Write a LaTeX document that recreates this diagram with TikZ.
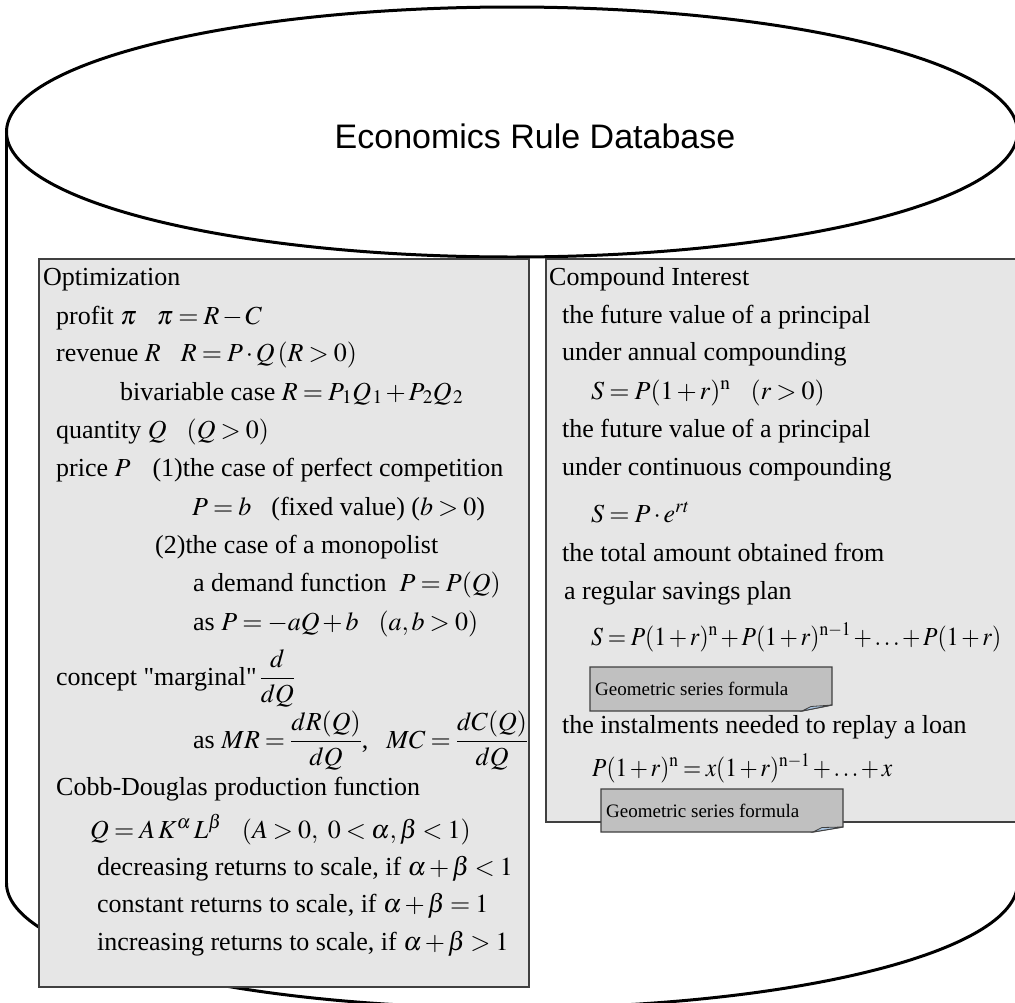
\documentclass[tikz,border=0pt]{standalone}
\usepackage{amsmath}
\usepackage{graphicx}
\usepackage{mathptmx}
\usepackage[no-math]{fontspec}
\setmainfont{Liberation Serif}
\newfontfamily\titlefont{Liberation Sans}
\definecolor{boxfill}{HTML}{E6E6E6}
\definecolor{boxline}{HTML}{404040}
\definecolor{notefill}{HTML}{C0C0C0}
\definecolor{foldfill}{HTML}{A9C4E0}
\newcommand{\tightmath}{\medmuskip=2mu plus 1mu\thickmuskip=3.5mu plus 2mu\relax}
\newcommand{\sbk}[2]{#1_{\kern1.5pt #2}}
\begin{document}
\begin{tikzpicture}[x=1pt,y=-1pt,
  body/.style={anchor=base west, inner sep=0pt, font=\fontsize{26}{31}\selectfont\tightmath},
  notetxt/.style={anchor=base west, inner sep=0pt, font=\fontsize{19}{23}\selectfont},
  cyl/.style={line width=3pt, draw=black},
  panel/.style={fill=boxfill, draw=boxline, line width=1.3pt},
  notebox/.style={fill=notefill, draw=boxline, line width=1.2pt},
  fold/.style={fill=foldfill, draw=boxline, line width=0.8pt}]
\useasboundingbox (0,0) rectangle (1015,1002);
% cylinder body
\draw[cyl] (6.5,132) -- (6.5,883);
\draw[cyl] (1017.5,132) -- (1017.5,883);
\begin{scope}
  \clip (-10,883) rectangle (1030,1020);
  \draw[cyl] (512,883) ellipse [x radius=505.5, y radius=125];
\end{scope}
\draw[cyl] (512,132) ellipse [x radius=505.5, y radius=125];
\node[font=\titlefont\fontsize{34}{40}\selectfont, inner sep=0pt] (title) at (535,136) {Economics Rule Database};
% panels
\draw[panel] (39,259) rectangle (529,987);
\draw[panel] (546,259) rectangle (1030,822);
% left panel text
\node[body] (l1) at (43,285) {Optimization};
\node[body] (l2) at (56,324) {profit $\pi$\hspace{20pt}$\pi = R - C$};
\node[body] (l3) at (56,361) {revenue $R$\hspace{20pt}$R = P\cdot Q\,(R>0)$};
\node[body] (l4) at (120,400) {bivariable case $R = \sbk{P}{1}\sbk{Q}{1} + \sbk{P}{2}\sbk{Q}{2}$};
\node[body] (l5) at (56,438) {quantity $Q$\hspace{20pt}$(Q>0)$};
\node[body] (l6) at (56,476) {price $P$\hspace{22pt}(1)the case of perfect competition};
\node[body] (l7) at (192,515) {$P=b$\hspace{20pt}(fixed value) ($b>0$)};
\node[body] (l8) at (155,553) {(2)the case of a monopolist};
\node[body] (l9) at (193,591) {a demand function \ $P = P(Q)$};
\node[body] (l10) at (193,630) {as $P = -aQ + b$\hspace{20pt}$(a, b > 0)$};
\node[body] (l11) at (56,685) {concept \textquotedbl marginal\textquotedbl$\,\dfrac{d}{dQ}$};
\node[body] (l12) at (193,748) {as $MR = \dfrac{dR(Q)}{dQ}$,\hspace{18pt}$MC = \dfrac{dC(Q)}{dQ}$};
\node[body] (l13) at (56,795) {Cobb-Douglas production function};
\node[body] (l14) at (90,838) {$Q = A\,K^{\alpha}\,L^{\beta}$\hspace{20pt}$(A>0,\ 0<\alpha,\beta<1)$};
\node[body] (l15) at (97,875) {decreasing returns to scale, if $\alpha+\beta<1$};
\node[body] (l16) at (97,912) {constant returns to scale, if $\alpha+\beta=1$};
\node[body] (l17) at (97,950) {increasing returns to scale, if $\alpha+\beta>1$};
% right panel text
\node[body] (r1) at (549,285) {Compound Interest};
\node[body] (r2) at (562,323) {the future value of a principal};
\node[body] (r3) at (562,360) {under annual compounding};
\node[body] (r4) at (591,399) {$S = P(1+r)^{\mathrm{n}}$\hspace{20pt}$(r>0)$};
\node[body] (r5) at (562,437) {the future value of a principal};
\node[body] (r6) at (562,475) {under continuous compounding};
\node[body] (r7) at (591,522) {$S = P\cdot e^{rt}$};
\node[body] (r8) at (562,561) {the total amount obtained from};
\node[body] (r9) at (564,599) {a regular savings plan};
\node[body] (r10) at (591,645) {\resizebox{410pt}{\height}{$S = P(1+r)^{\mathrm{n}} + P(1+r)^{\mathrm{n}-1} + \ldots + P(1+r)$}};
\node[body] (r11) at (562,733) {the instalments needed to replay a loan};
\node[body] (r12) at (592,776) {\resizebox{300pt}{\height}{$P(1+r)^{\mathrm{n}} = x(1+r)^{\mathrm{n}-1} + \ldots + x$}};
% notes
\draw[notebox] (590,667) -- (832,667) -- (832,705) -- (802,711) -- (590,711) -- cycle;
\draw[fold] (802,711) -- (811,706.5) -- (832,705) -- cycle;
\node[notetxt] (n1) at (595,695) {Geometric series formula};
\draw[notebox] (601,789) -- (843,789) -- (843,827) -- (813,832) -- (601,832) -- cycle;
\draw[fold] (813,832) -- (822,827.5) -- (843,827) -- cycle;
\node[notetxt] (n2) at (606,817) {Geometric series formula};
\end{tikzpicture}
\end{document}
